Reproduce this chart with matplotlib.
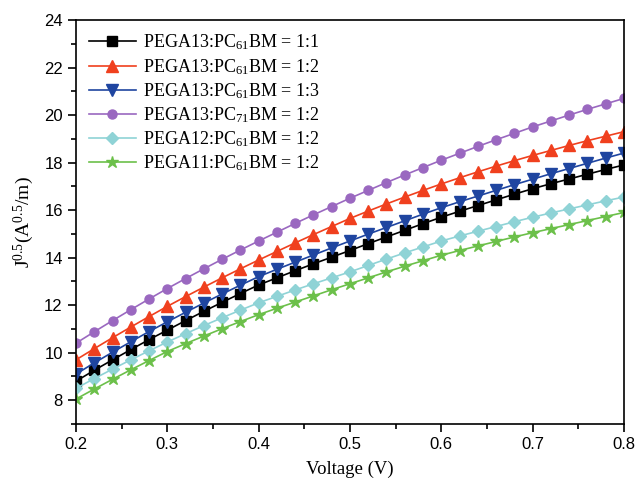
import matplotlib
matplotlib.use("Agg")
import matplotlib.pyplot as plt
from matplotlib.ticker import MultipleLocator

plt.rcParams['mathtext.fontset'] = 'custom'
plt.rcParams['mathtext.rm'] = 'Liberation Serif'
plt.rcParams['mathtext.it'] = 'Liberation Serif:italic'

voltage = [0.20, 0.22, 0.24, 0.26, 0.28, 0.30, 0.32, 0.34, 0.36, 0.38,
           0.40, 0.42, 0.44, 0.46, 0.48, 0.50, 0.52, 0.54, 0.56, 0.58,
           0.60, 0.62, 0.64, 0.66, 0.68, 0.70, 0.72, 0.74, 0.76, 0.78, 0.80]

pega13_61_11 = [8.80, 9.26, 9.70, 10.13, 10.55, 10.95, 11.35, 11.74, 12.12, 12.49,
                12.85, 13.15, 13.45, 13.74, 14.02, 14.30, 14.59, 14.87, 15.15, 15.43,
                15.70, 15.95, 16.19, 16.43, 16.67, 16.90, 17.11, 17.31, 17.51, 17.71, 17.90]
pega13_61_12 = [9.70, 10.17, 10.63, 11.08, 11.52, 11.95, 12.36, 12.76, 13.15, 13.53,
                13.90, 14.26, 14.62, 14.97, 15.31, 15.65, 15.96, 16.26, 16.55, 16.83,
                17.10, 17.36, 17.61, 17.85, 18.08, 18.30, 18.51, 18.72, 18.92, 19.11, 19.30]
pega13_61_13 = [9.10, 9.57, 10.02, 10.46, 10.89, 11.30, 11.70, 12.09, 12.47, 12.84,
                13.20, 13.51, 13.81, 14.11, 14.41, 14.70, 14.99, 15.27, 15.55, 15.83,
                16.10, 16.35, 16.59, 16.83, 17.07, 17.30, 17.53, 17.75, 17.97, 18.19, 18.40]
pega13_71_12 = [10.40, 10.88, 11.35, 11.81, 12.26, 12.70, 13.12, 13.53, 13.93, 14.32,
                14.70, 15.07, 15.44, 15.80, 16.15, 16.50, 16.83, 17.16, 17.48, 17.79,
                18.10, 18.39, 18.68, 18.96, 19.23, 19.50, 19.75, 20.00, 20.24, 20.47, 20.70]
pega12_61_12 = [8.50, 8.91, 9.31, 9.70, 10.08, 10.45, 10.80, 11.14, 11.47, 11.79,
                12.10, 12.37, 12.64, 12.90, 13.15, 13.40, 13.67, 13.94, 14.20, 14.45,
                14.70, 14.91, 15.11, 15.31, 15.51, 15.70, 15.88, 16.05, 16.22, 16.39, 16.55]
pega11_61_12 = [8.05, 8.47, 8.88, 9.28, 9.67, 10.05, 10.38, 10.70, 11.01, 11.31,
                11.60, 11.87, 12.13, 12.39, 12.65, 12.90, 13.15, 13.40, 13.64, 13.87,
                14.10, 14.30, 14.49, 14.68, 14.87, 15.05, 15.22, 15.39, 15.56, 15.73, 15.90]

series = [
    ("PEGA13:PC$_{61}$BM = 1:1", pega13_61_11, "black", "s", 6.5),
    ("PEGA13:PC$_{61}$BM = 1:2", pega13_61_12, "#f0401e", "^", 8),
    ("PEGA13:PC$_{61}$BM = 1:3", pega13_61_13, "#1f45a0", "v", 8),
    ("PEGA13:PC$_{71}$BM = 1:2", pega13_71_12, "#9a68c0", "o", 6.5),
    ("PEGA12:PC$_{61}$BM = 1:2", pega12_61_12, "#8fd3d6", "D", 6.5),
    ("PEGA11:PC$_{61}$BM = 1:2", pega11_61_12, "#6cc04a", "*", 9),
]

fig = plt.figure(figsize=(6.36, 4.84), dpi=100)
ax = fig.add_axes([0.1195, 0.124, 0.8615, 0.8347])

for label, vals, col, mk, ms in series:
    ax.plot(voltage, vals, color=col, marker=mk, markersize=ms, lw=1.2, label=label)

ax.set_xlim(0.2, 0.8)
ax.set_ylim(7, 24)
ax.xaxis.set_major_locator(MultipleLocator(0.1))
ax.xaxis.set_minor_locator(MultipleLocator(0.05))
ax.yaxis.set_major_locator(MultipleLocator(2))
ax.yaxis.set_minor_locator(MultipleLocator(1))
ax.tick_params(which='major', direction='out', length=6, width=1.2, labelsize=12)
ax.tick_params(which='minor', direction='out', length=3.5, width=1.2)
for lbl in ax.get_xticklabels() + ax.get_yticklabels():
    lbl.set_family('Liberation Sans')
for s in ax.spines.values():
    s.set_linewidth(1.2)

ax.set_xlabel("Voltage (V)", family='Liberation Serif', fontsize=13.5, labelpad=6)
ax.set_ylabel("J$^{0.5}$(A$^{0.5}$/m)", family='Liberation Serif', fontsize=14, labelpad=6)

ax.legend(loc='upper left', frameon=False, prop={'family': 'Liberation Serif', 'size': 13},
          handlelength=2.6, labelspacing=0.25, borderaxespad=0.3, handletextpad=0.4)

fig.savefig("out.png", dpi=100)
